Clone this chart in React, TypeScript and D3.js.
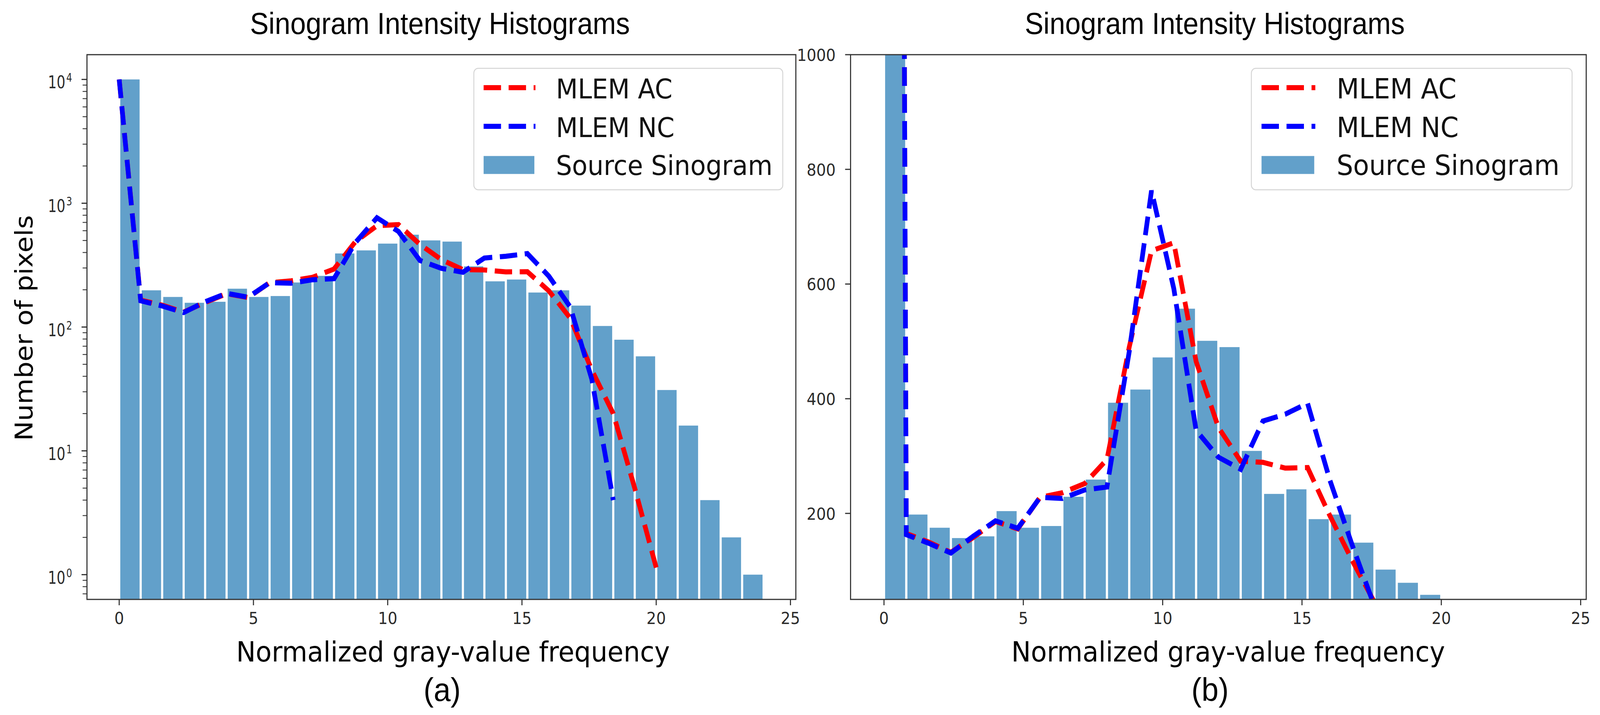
import React from 'react';
import * as d3 from 'd3';

// histogram bins are 0.8 wide, starting at 0
const BIN_WIDTH = 0.8;

// Source sinogram counts per bin
const sourceCounts = [
  10000, 198, 175, 157, 160, 204, 175, 178, 229, 259, 393, 416, 472, 557, 501,
  490, 309, 234, 242, 190, 198, 149, 102, 79, 58, 31, 16, 4, 2, 1,
];

// MLEM curves, one value per bin edge
const mlemAC = [
  10000, 165, 150, 132, 158, 186, 173, 228, 236, 252, 294, 490, 658, 672, 465,
  350, 291, 289, 279, 280, 196, 118, 45, 20, 5, 1.14,
];
const mlemNC = [
  10000, 163, 148, 131, 160, 187, 174, 228, 226, 241, 246, 482, 763, 592, 345,
  298, 277, 361, 373, 392, 258, 145, 38, 4,
];

const xTicks = [0, 5, 10, 15, 20, 25];
const logExponents = [0, 1, 2, 3, 4];
const linearTicks = [200, 400, 600, 800, 1000];
const legendLabels = ['MLEM AC', 'MLEM NC', 'Source Sinogram'];

const TITLE = 'Sinogram Intensity Histograms';
const X_LABEL = 'Normalized gray-value frequency';
const Y_LABEL = 'Number of pixels';

const W = 4415;
const H = 1831;

const BAR_COLOR = '#62a0ca';
const AC_COLOR = '#ff0000';
const NC_COLOR = '#0000ff';
const AXIS_COLOR = '#333333';
const TICK_TEXT = '#2b2b2b';
const LINE_W = 13;
const DASH = '48,21';

interface PanelSpec {
  id: string;
  left: number;
  right: number;
  top: number;
  bottom: number;
  log: boolean;
  titleX: number;
  xLabelX: number;
  tagX: number;
  tag: string;
  legendLeft: number;
  legendRight: number;
  legendFont: number;
}

const panels: PanelSpec[] = [
  {
    id: 'a', left: 240, right: 2196, top: 140, bottom: 1535, log: true,
    titleX: 1214, xLabelX: 1250, tagX: 1220, tag: '(a)',
    legendLeft: 1307.5, legendRight: 2160, legendFont: 70,
  },
  {
    id: 'b', left: 2347, right: 4377, top: 140, bottom: 1535, log: false,
    titleX: 3352, xLabelX: 3389, tagX: 3339, tag: '(b)',
    legendLeft: 3453, legendRight: 4338, legendFont: 72,
  },
];

const Panel: React.FC<{ p: PanelSpec }> = ({ p }) => {
  const x = d3.scaleLinear().domain([-1.2, 25.2]).range([p.left, p.right]);
  const y: (v: number) => number = p.log
    ? d3.scaleLog().domain([10 ** -0.2, 10 ** 4.2]).range([p.bottom, p.top])
    : d3.scaleLinear().domain([50, 1000]).range([p.bottom, p.top]);

  const line = d3
    .line<number>()
    .x((_, i) => x(i * BIN_WIDTH))
    .y((d) => y(d));

  const clipId = `clip-${p.id}`;
  const binPx = x(BIN_WIDTH) - x(0);
  const gap = binPx * 0.05;

  // minor ticks for the log axis
  const minor: number[] = [];
  if (p.log) {
    for (let e = -1; e <= 4; e++) {
      for (let m = 2; m <= 9; m++) {
        const v = m * 10 ** e;
        if (v > 10 ** -0.2 && v < 10 ** 4.2) minor.push(v);
      }
    }
  }

  // legend geometry
  const sx = (p.legendRight - p.legendLeft) / 852.5;
  const lgTop = 175;
  const hx0 = p.legendLeft + 27 * sx;
  const hx1 = hx0 + 143 * sx;
  const tx = p.legendLeft + 226.5 * sx;

  return (
    <g>
      <defs>
        <clipPath id={clipId}>
          <rect x={p.left} y={p.top} width={p.right - p.left} height={p.bottom - p.top} />
        </clipPath>
      </defs>

      <g clipPath={`url(#${clipId})`}>
        {sourceCounts.map((v, i) => {
          const x0 = x(i * BIN_WIDTH) + gap;
          const x1 = x((i + 1) * BIN_WIDTH) - gap;
          const yt = Math.max(y(v), p.top - 20);
          return (
            <rect key={i} x={x0} y={yt} width={x1 - x0} height={p.bottom - yt} fill={BAR_COLOR} />
          );
        })}
        <path d={line(mlemAC) ?? ''} fill="none" stroke={AC_COLOR} strokeWidth={LINE_W} strokeDasharray={DASH} />
        <path d={line(mlemNC) ?? ''} fill="none" stroke={NC_COLOR} strokeWidth={LINE_W} strokeDasharray={DASH} />
      </g>

      {/* spines */}
      <rect x={p.left} y={p.top} width={p.right - p.left} height={p.bottom - p.top} fill="none" stroke={AXIS_COLOR} strokeWidth={3} />

      {/* x ticks */}
      {xTicks.map((t) => (
        <g key={t}>
          <line x1={x(t)} x2={x(t)} y1={p.bottom} y2={p.bottom + 15} stroke={AXIS_COLOR} strokeWidth={3} />
          <text x={x(t)} y={p.bottom + 63} textAnchor="middle" fontFamily="DejaVu Sans" fontSize={42} fill={TICK_TEXT}>
            {t}
          </text>
        </g>
      ))}

      {/* y ticks */}
      {p.log
        ? logExponents.map((e) => {
            const ty = y(10 ** e);
            return (
              <g key={e}>
                <line x1={p.left - 15} x2={p.left} y1={ty} y2={ty} stroke={AXIS_COLOR} strokeWidth={3} />
                <text
                  transform={`translate(${p.left - 41},${ty + 23}) scale(0.84,1)`}
                  textAnchor="end"
                  fontFamily="DejaVu Sans"
                  fontSize={45}
                  fill={TICK_TEXT}
                >
                  10
                  <tspan dx={3} dy={-17} fontSize={30}>
                    {e}
                  </tspan>
                </text>
              </g>
            );
          })
        : linearTicks.map((t) => (
            <g key={t}>
              <line x1={p.left - 15} x2={p.left} y1={y(t)} y2={y(t)} stroke={AXIS_COLOR} strokeWidth={3} />
              <text x={p.left - 41} y={y(t) + 16} textAnchor="end" fontFamily="DejaVu Sans" fontSize={42} fill={TICK_TEXT}>
                {t}
              </text>
            </g>
          ))}
      {minor.map((v) => (
        <line key={v} x1={p.left - 12} x2={p.left} y1={y(v)} y2={y(v)} stroke={AXIS_COLOR} strokeWidth={2.2} />
      ))}

      {/* legend */}
      <rect
        x={p.legendLeft}
        y={lgTop}
        width={p.legendRight - p.legendLeft}
        height={311}
        rx={12}
        fill="#ffffff"
        fillOpacity={0.8}
        stroke="#d4d4d4"
        strokeWidth={2.5}
      />
      <line x1={hx0} x2={hx1} y1={lgTop + 49.5} y2={lgTop + 49.5} stroke={AC_COLOR} strokeWidth={LINE_W} strokeDasharray={DASH} />
      <line x1={hx0} x2={hx1} y1={lgTop + 148.5} y2={lgTop + 148.5} stroke={NC_COLOR} strokeWidth={LINE_W} strokeDasharray={DASH} />
      <rect x={hx0} y={lgTop + 224.5} width={hx1 - hx0 - 3} height={46} fill={BAR_COLOR} />
      {legendLabels.map((l, i) => (
        <text key={l} x={tx} y={lgTop + [77.5, 176.5, 273.5][i]} fontFamily="DejaVu Sans" fontSize={p.legendFont} fill="#111">
          {l}
        </text>
      ))}

      {/* titles & labels */}
      <text x={p.titleX} y={87} textAnchor="middle" fontFamily="Liberation Sans" fontSize={77} fill="#000">
        {TITLE}
      </text>
      <text x={p.xLabelX} y={1694} textAnchor="middle" fontFamily="DejaVu Sans" fontSize={72} fill="#000">
        {X_LABEL}
      </text>
      <text x={p.tagX} y={1795} textAnchor="middle" fontFamily="Liberation Sans" fontSize={84} fill="#000">
        {p.tag}
      </text>
    </g>
  );
};

export default function App() {
  // the svg is stretched over the whole viewport so the figure fills the frame
  return (
    <div style={{ position: 'fixed', left: 0, top: 0, width: '100vw', height: '100vh', background: '#fff' }}>
      <svg
        width="100%"
        height="100%"
        viewBox={`0 0 ${W} ${H}`}
        preserveAspectRatio="none"
        style={{ display: 'block' }}
      >
        <rect x={0} y={0} width={W} height={H} fill="#fff" />
        {panels.map((p) => (
          <Panel key={p.id} p={p} />
        ))}
        <text
          transform="translate(89,840) rotate(-90)"
          textAnchor="middle"
          fontFamily="DejaVu Sans"
          fontSize={68}
          fill="#000"
        >
          {Y_LABEL}
        </text>
      </svg>
    </div>
  );
}
